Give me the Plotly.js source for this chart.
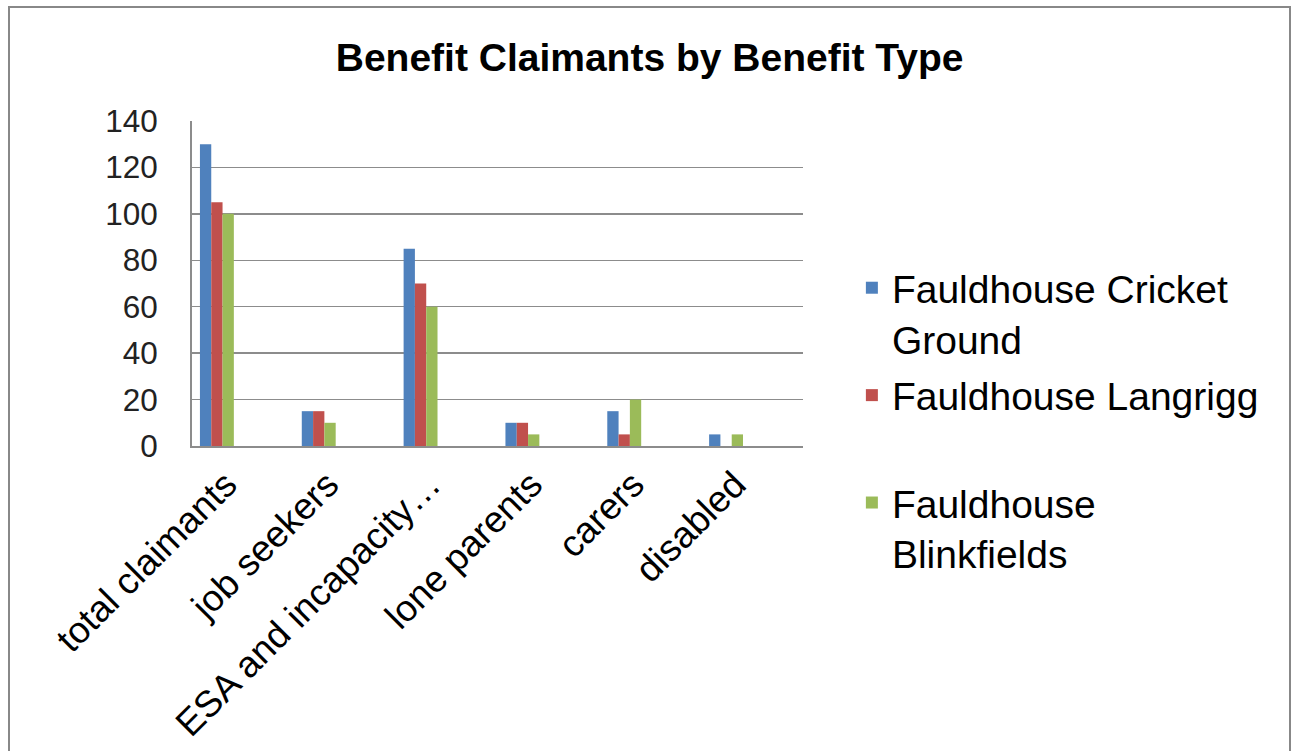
<!DOCTYPE html>
<html>
<head>
<meta charset="utf-8">
<script src="https://cdn.plot.ly/plotly-3.0.1.min.js"></script>
<style>
  html, body { margin: 0; padding: 0; background: #ffffff; }
  #wrap { position: relative; width: 1294px; height: 751px; overflow: hidden; }
  #chart { width: 1294px; height: 751px; }
  #frame { position: absolute; left: 8px; top: 6px; width: 1283px; height: 800px;
           border: 2px solid #888888; pointer-events: none; box-sizing: border-box; }
</style>
</head>
<body>
<div id="wrap">
  <div id="chart"></div>
  <div id="frame"></div>
</div>
<script>
// ---- data ----
const categories = ["total claimants", "job seekers", "ESA and incapacity\u2026", "lone parents", "carers", "disabled"];
const seriesNames = ["Fauldhouse Cricket<br>Ground", "Fauldhouse Langrigg<br>\u00a0", "Fauldhouse<br>Blinkfields"];
const cricketGround = [130, 15, 85, 10, 15, 5];
const langrigg      = [105, 15, 70, 10, 5, 0];
const blinkfields   = [100, 10, 60, 5, 20, 5];
const yTicks = [0, 20, 40, 60, 80, 100, 120, 140];

// ---- styles ----
const colors = ["#4F81BD", "#C0504D", "#9BBB59"];
const barWidth = 0.111;
const firstOffset = -0.422;
const seriesValues = [cricketGround, langrigg, blinkfields];

const traces = seriesValues.map((vals, i) => ({
  type: "bar",
  x: categories,
  y: vals,
  name: seriesNames[i],
  legendgroup: "g" + i,
  width: barWidth,
  offset: firstOffset + i * barWidth,
  marker: { color: colors[i], line: { width: 0 } },
  hoverinfo: "x+y+name"
}));

const layout = {
  width: 1294,
  height: 751,
  paper_bgcolor: "#ffffff",
  plot_bgcolor: "#ffffff",
  margin: { l: 192, r: 491, t: 121, b: 305, pad: 0 },
  font: { family: "Liberation Sans, Arial, sans-serif", color: "#000000" },
  title: {
    text: "<b>Benefit Claimants by Benefit Type</b>",
    font: { family: "Liberation Sans, Arial, sans-serif", size: 39, color: "#000000" },
    xref: "container", x: 0.502, xanchor: "center",
    yref: "container", y: 0.923, yanchor: "middle"
  },
  barmode: "group",
  showlegend: true,
  legend: {
    x: 1.080, xanchor: "left",
    y: 0.085, yanchor: "middle",
    valign: "top",
    traceorder: "grouped",
    tracegroupgap: 3,
    font: { family: "Liberation Sans, Arial, sans-serif", size: 39, color: "#000000" },
    bgcolor: "rgba(0,0,0,0)",
    borderwidth: 0
  },
  xaxis: {
    type: "category",
    categoryorder: "array",
    categoryarray: categories,
    range: [-0.5, categories.length - 0.5],
    tickangle: -45,
    tickfont: { family: "Liberation Sans, Arial, sans-serif", size: 37, color: "#000000" },
    ticklabelstandoff: 0,
    ticklabelshift: -17,
    showline: true, linecolor: "#8c8c8c", linewidth: 2,
    showgrid: false, zeroline: false,
    ticks: "", fixedrange: true
  },
  yaxis: {
    range: [0, 140],
    tickvals: yTicks,
    ticktext: yTicks.map(String),
    tickfont: { family: "Liberation Sans, Arial, sans-serif", size: 31.5, color: "#222222" },
    ticklabelstandoff: 26,
    showline: true, linecolor: "#8c8c8c", linewidth: 2,
    showgrid: true, gridcolor: "#8c8c8c", gridwidth: 1.5,
    zeroline: false, ticks: "", fixedrange: true
  }
};

Plotly.newPlot("chart", traces, layout, { displayModeBar: false, staticPlot: true });
</script>
</body>
</html>
